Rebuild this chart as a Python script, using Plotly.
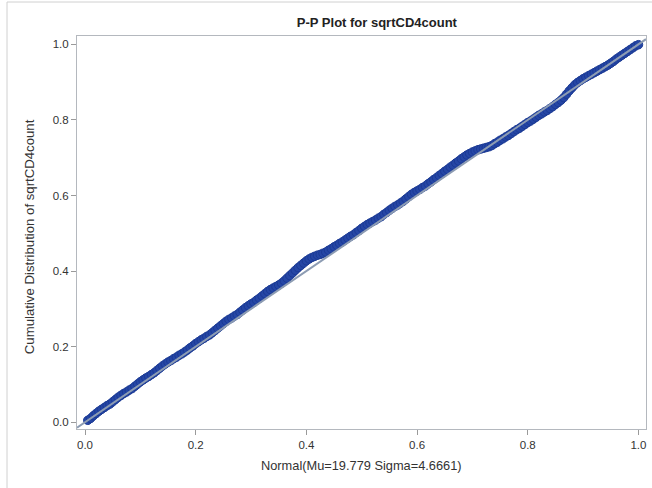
import plotly.graph_objects as go

# Theoretical (Normal) cumulative probabilities, read at half-steps
pp_x_a = [0.005, 0.015, 0.025, 0.035, 0.045, 0.055, 0.065, 0.075, 0.085, 0.095,
          0.105, 0.115, 0.125, 0.135, 0.145, 0.155, 0.165, 0.175, 0.185, 0.195,
          0.205, 0.215, 0.225, 0.235, 0.245, 0.255, 0.265, 0.275, 0.285, 0.295,
          0.305, 0.315, 0.325, 0.335, 0.345, 0.355, 0.365, 0.375, 0.385, 0.395,
          0.405, 0.415, 0.425, 0.435, 0.445, 0.455, 0.465, 0.475, 0.485, 0.495,
          0.505, 0.515, 0.525, 0.535, 0.545, 0.555, 0.565, 0.575, 0.585, 0.595,
          0.605, 0.615, 0.625, 0.635, 0.645, 0.655, 0.665, 0.675, 0.685, 0.695,
          0.705, 0.715, 0.725, 0.735, 0.745, 0.755, 0.765, 0.775, 0.785, 0.795,
          0.805, 0.815, 0.825, 0.835, 0.845, 0.855, 0.865, 0.875, 0.885, 0.895,
          0.905, 0.915, 0.925, 0.935, 0.945, 0.955, 0.965, 0.975, 0.985, 0.995]
pp_y_a = [0.005, 0.017, 0.029, 0.039, 0.048, 0.060, 0.071, 0.080, 0.089, 0.101,
          0.112, 0.121, 0.131, 0.143, 0.154, 0.163, 0.172, 0.181, 0.191, 0.202,
          0.213, 0.222, 0.231, 0.243, 0.255, 0.267, 0.276, 0.285, 0.297, 0.308,
          0.317, 0.328, 0.340, 0.351, 0.359, 0.368, 0.381, 0.395, 0.409, 0.421,
          0.432, 0.439, 0.444, 0.450, 0.459, 0.468, 0.477, 0.487, 0.496, 0.507,
          0.518, 0.527, 0.535, 0.544, 0.555, 0.566, 0.575, 0.585, 0.597, 0.608,
          0.616, 0.625, 0.636, 0.647, 0.658, 0.669, 0.680, 0.691, 0.702, 0.711,
          0.718, 0.723, 0.727, 0.732, 0.741, 0.750, 0.759, 0.769, 0.778, 0.788,
          0.797, 0.807, 0.816, 0.825, 0.835, 0.846, 0.859, 0.877, 0.893, 0.904,
          0.913, 0.921, 0.929, 0.937, 0.945, 0.955, 0.966, 0.976, 0.986, 0.996]

# Theoretical cumulative probabilities, read at whole steps
pp_x_b = [0.010, 0.020, 0.030, 0.040, 0.050, 0.060, 0.070, 0.080, 0.090, 0.100,
          0.110, 0.120, 0.130, 0.140, 0.150, 0.160, 0.170, 0.180, 0.190, 0.200,
          0.210, 0.220, 0.230, 0.240, 0.250, 0.260, 0.270, 0.280, 0.290, 0.300,
          0.310, 0.320, 0.330, 0.340, 0.350, 0.360, 0.370, 0.380, 0.390, 0.400,
          0.410, 0.420, 0.430, 0.440, 0.450, 0.460, 0.470, 0.480, 0.490, 0.500,
          0.510, 0.520, 0.530, 0.540, 0.550, 0.560, 0.570, 0.580, 0.590, 0.600,
          0.610, 0.620, 0.630, 0.640, 0.650, 0.660, 0.670, 0.680, 0.690, 0.700,
          0.710, 0.720, 0.730, 0.740, 0.750, 0.760, 0.770, 0.780, 0.790, 0.800,
          0.810, 0.820, 0.830, 0.840, 0.850, 0.860, 0.870, 0.880, 0.890, 0.900,
          0.910, 0.920, 0.930, 0.940, 0.950, 0.960, 0.970, 0.980, 0.990, 1.000]
pp_y_b = [0.010, 0.023, 0.034, 0.044, 0.054, 0.066, 0.076, 0.085, 0.095, 0.107,
          0.117, 0.126, 0.137, 0.149, 0.159, 0.168, 0.177, 0.186, 0.197, 0.208,
          0.218, 0.227, 0.237, 0.249, 0.261, 0.272, 0.281, 0.291, 0.303, 0.313,
          0.323, 0.334, 0.346, 0.355, 0.363, 0.374, 0.388, 0.402, 0.415, 0.427,
          0.436, 0.442, 0.447, 0.455, 0.464, 0.473, 0.482, 0.492, 0.502, 0.513,
          0.523, 0.531, 0.540, 0.550, 0.561, 0.571, 0.580, 0.591, 0.603, 0.612,
          0.621, 0.631, 0.642, 0.653, 0.664, 0.675, 0.686, 0.697, 0.707, 0.715,
          0.721, 0.725, 0.729, 0.737, 0.746, 0.755, 0.764, 0.774, 0.783, 0.793,
          0.802, 0.812, 0.821, 0.830, 0.841, 0.852, 0.868, 0.885, 0.899, 0.909,
          0.917, 0.925, 0.933, 0.941, 0.950, 0.961, 0.971, 0.981, 0.991, 0.999]

x_range = [-0.0145, 1.0136]
y_range = [-0.018, 1.022]
tick_vals = [0.0, 0.2, 0.4, 0.6, 0.8, 1.0]
tick_text = ["0.0", "0.2", "0.4", "0.6", "0.8", "1.0"]

pairs = sorted(zip(pp_x_a + pp_x_b, pp_y_a + pp_y_b))
pp_x = [p[0] for p in pairs]
pp_y = [p[1] for p in pairs]

fig = go.Figure()
fig.add_trace(go.Scatter(
    x=pp_x, y=pp_y, mode="markers",
    marker=dict(symbol="circle", size=8.5, color="#2546a5",
                line=dict(color="#1b3a94", width=1)),
    showlegend=False, hoverinfo="skip"))
fig.add_trace(go.Scatter(
    x=x_range, y=x_range, mode="lines",
    line=dict(color="#8d9cb3", width=2),
    showlegend=False, hoverinfo="skip"))

font = "Liberation Sans, Arial, sans-serif"
axis_common = dict(
    showgrid=False, zeroline=False, showline=True, mirror=True,
    linecolor="#b4b8be", linewidth=1, ticks="outside", ticklen=5,
    tickcolor="#9a9a9a", tickfont=dict(family=font, size=11.5, color="#333333"),
    tickvals=tick_vals, ticktext=tick_text)

fig.update_xaxes(range=x_range, **axis_common)
fig.update_yaxes(range=y_range, **axis_common)

fig.update_layout(
    width=652, height=488,
    margin=dict(l=77, r=6, t=36, b=59),
    paper_bgcolor="white", plot_bgcolor="white",
    font=dict(family=font),
    title=dict(text="<b>P-P Plot for sqrtCD4count</b>",
               font=dict(family=font, size=13, color="#222222"),
               x=0.527, xanchor="center", y=1 - 22 / 488, yanchor="middle",
               xref="paper"),
    annotations=[
        dict(text="Normal(Mu=19.779 Sigma=4.6661)", xref="paper", yref="paper",
             x=0.5, y=-0.094, xanchor="center", yanchor="middle",
             showarrow=False, font=dict(family=font, size=12.8, color="#333333")),
        dict(text="Cumulative Distribution of sqrtCD4count", xref="paper",
             yref="paper", x=-0.083, y=0.49, xanchor="center", yanchor="middle",
             textangle=-90, showarrow=False,
             font=dict(family=font, size=13.2, color="#333333")),
    ],
    shapes=[
        dict(type="line", xref="paper", yref="paper", x0=-0.123, x1=1.02,
             y0=1.0865, y1=1.0865, line=dict(color="#d0d0d0", width=1)),
        dict(type="line", xref="paper", yref="paper", x0=-0.123, x1=-0.123,
             y0=-0.2, y1=1.0865, line=dict(color="#d0d0d0", width=1)),
    ],
)

fig.write_html("out.html", config={"displayModeBar": False},
               post_script="document.body.style.margin='0';document.body.style.overflow='hidden';")
